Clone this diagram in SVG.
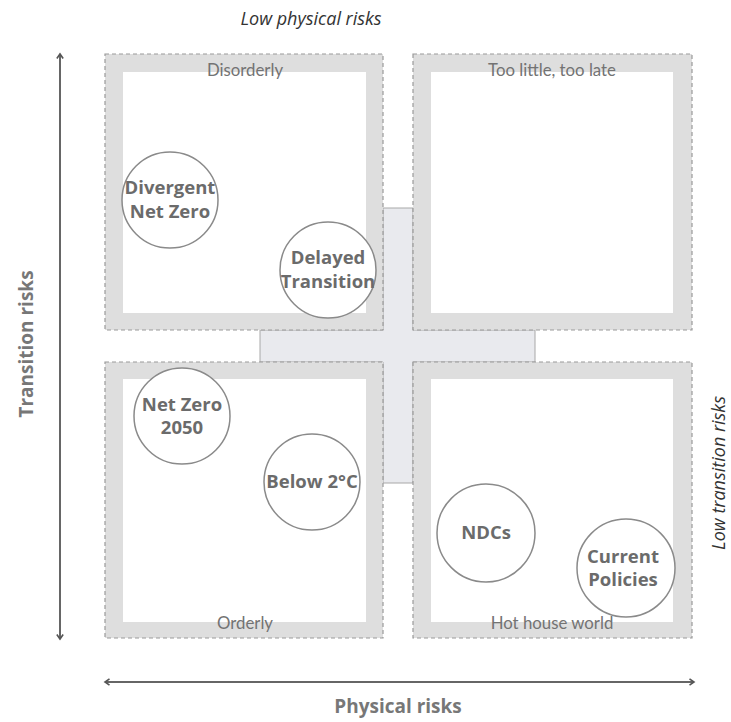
<svg xmlns="http://www.w3.org/2000/svg" width="731" height="722" viewBox="0 0 731 722">
<style>
.frame{fill:#dedede;stroke:#9a9a9a;stroke-width:1.2;stroke-dasharray:4 3}
.inner{fill:#ffffff}
.cross{fill:#e9eaee;stroke:#a8a8a8;stroke-width:1}
.q{font-family:Lato,"Open Sans",sans-serif;font-size:16.8px;fill:#737373;text-anchor:middle}
.circ{fill:#ffffff;stroke:#8a8a8a;stroke-width:1.5}
.c{font-family:"Open Sans","Noto Sans",sans-serif;font-size:18.5px;font-weight:bold;fill:#6b6b6b;text-anchor:middle}
.ax{font-family:"Open Sans","Noto Sans",sans-serif;font-size:19px;font-weight:bold;fill:#777777;text-anchor:middle}
.it{font-family:"Open Sans","Noto Sans",sans-serif;font-size:18px;font-style:italic;fill:#333333;text-anchor:middle}
.arr{stroke:#666666;stroke-width:2;fill:none}
</style>
<defs>
<marker id="chev" viewBox="0 0 10 10" refX="8" refY="5" markerWidth="9" markerHeight="9" markerUnits="userSpaceOnUse" orient="auto-start-reverse">
<path d="M3,1.5 L8,5 L3,8.5" fill="none" stroke="#555555" stroke-width="1.8"/>
</marker>
</defs>
<rect width="731" height="722" fill="#ffffff"/>
<g id="connectors">
<path class="cross" d="M383,208 H413 V330 H535 V362 H413 V483 H383 V362 H260 V330 H383 Z"/>
<line class="arr" x1="60" y1="54" x2="60" y2="639" marker-start="url(#chev)" marker-end="url(#chev)"/>
<line class="arr" x1="105" y1="682" x2="694" y2="682" marker-start="url(#chev)" marker-end="url(#chev)"/>
</g>
<g id="q-disorderly">
<rect class="frame" x="105" y="54" width="278" height="276"/>
<rect class="inner" x="123" y="72" width="243" height="241"/>
<text class="q" x="245" y="76">Disorderly</text>
</g>
<g id="q-toolittle">
<rect class="frame" x="413" y="54" width="279" height="276"/>
<rect class="inner" x="431" y="72" width="242" height="241"/>
<text class="q" x="552" y="76">Too little, too late</text>
</g>
<g id="q-orderly">
<rect class="frame" x="105" y="362" width="278" height="276"/>
<rect class="inner" x="123" y="379" width="243" height="243"/>
<text class="q" x="245" y="629">Orderly</text>
</g>
<g id="q-hothouse">
<rect class="frame" x="413" y="362" width="279" height="276"/>
<rect class="inner" x="431" y="379" width="242" height="243"/>
<text class="q" x="552" y="629">Hot house world</text>
</g>
<g id="n-divergent">
<circle class="circ" cx="170" cy="200" r="48"/>
<text class="c" x="170" y="194">Divergent</text>
<text class="c" x="170" y="218">Net Zero</text>
</g>
<g id="n-delayed">
<circle class="circ" cx="328" cy="270" r="48"/>
<text class="c" x="328" y="264">Delayed</text>
<text class="c" x="328" y="288">Transition</text>
</g>
<g id="n-netzero">
<circle class="circ" cx="182" cy="416" r="48"/>
<text class="c" x="182" y="411">Net Zero</text>
<text class="c" x="182" y="434">2050</text>
</g>
<g id="n-below2">
<circle class="circ" cx="312" cy="482" r="48"/>
<text class="c" x="312" y="488">Below 2°C</text>
</g>
<g id="n-ndcs">
<circle class="circ" cx="486" cy="533" r="49"/>
<text class="c" x="486" y="539">NDCs</text>
</g>
<g id="n-current">
<circle class="circ" cx="626" cy="568" r="49"/>
<text class="c" x="623" y="563">Current</text>
<text class="c" x="623" y="586">Policies</text>
</g>
<g id="labels">
<text class="it" x="311" y="25">Low physical risks</text>
<text class="it" transform="translate(725,473) rotate(-90)">Low transition risks</text>
<text class="ax" transform="translate(33,344) rotate(-90)">Transition risks</text>
<text class="ax" x="398" y="713">Physical risks</text>
</g>
</svg>
